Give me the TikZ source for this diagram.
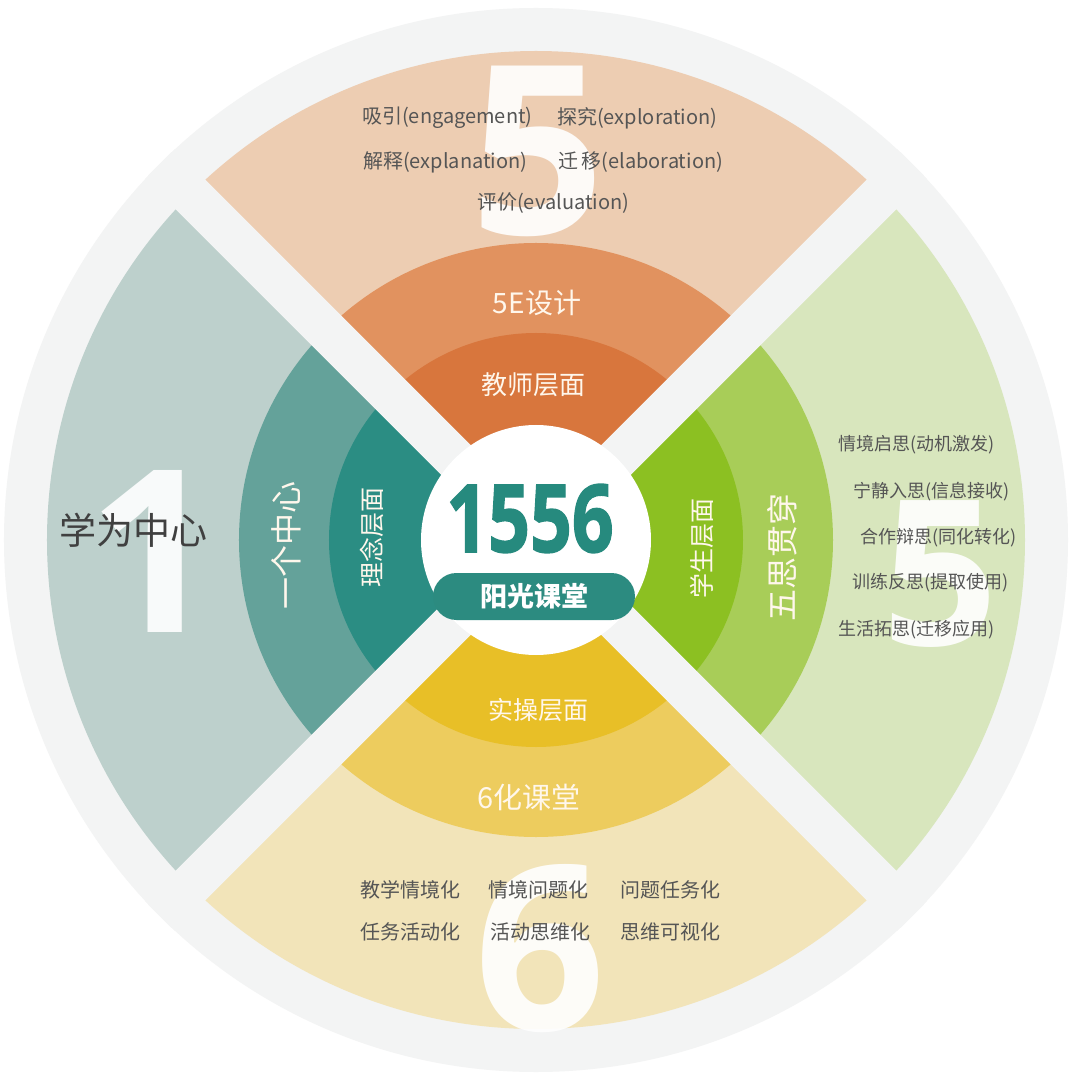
\documentclass[tikz,border=0pt]{standalone}
\usepackage{fontspec}
\setmainfont{Noto Sans CJK SC}
\newfontfamily\numfont{Open Sans}
\newfontfamily\heavyfont{Open Sans}[BoldFeatures={FakeBold=1.6}]
\definecolor{bgc}{HTML}{F3F4F4}
\definecolor{tO}{HTML}{EDCDB2}
\definecolor{tM}{HTML}{E1925F}
\definecolor{tI}{HTML}{D8763D}
\definecolor{lO}{HTML}{BDD0CC}
\definecolor{lM}{HTML}{64A29A}
\definecolor{lI}{HTML}{2B8D83}
\definecolor{rO}{HTML}{D8E6BD}
\definecolor{rM}{HTML}{A8CD58}
\definecolor{rI}{HTML}{8CC022}
\definecolor{bO}{HTML}{F2E4B9}
\definecolor{bM}{HTML}{EDCC5E}
\definecolor{bI}{HTML}{E8BF27}
\definecolor{txtc}{HTML}{555555}
\definecolor{darktxt}{HTML}{404040}
\definecolor{ringtxt}{HTML}{FFF7EC}
\definecolor{teal}{HTML}{268A7E}
\definecolor{pillc}{HTML}{2C8B80}
\begin{document}
\begin{tikzpicture}[x=1pt,y=1pt,
  outtxt/.style={inner sep=0pt, text=txtc, font=\fontsize{20}{24}\selectfont, anchor=west},
  sidetxt/.style={inner sep=0pt, text=txtc, font=\fontsize{18}{22}\selectfont, anchor=west},
  ringlbl/.style={inner sep=0pt, text=ringtxt, font=\fontsize{#1}{#1}\selectfont},
  wmark/.style={inner sep=0pt, anchor=base, text=white, text opacity=0.9, font=\fontsize{#1}{#1}\selectfont\numfont\bfseries}
]
\useasboundingbox (-536,-544) rectangle (544,540);
\fill[white] (-536,-544) rectangle (544,540);
\fill[bgc] (0,0) circle (532pt);
% quadrant sectors
\foreach \a/\co/\cm/\ci in {45/tO/tM/tI, 135/lO/lM/lI, 225/bO/bM/bI, 315/rO/rM/rI} {
  \fill[\co] (0,0) -- (\a:489pt) arc[start angle=\a, delta angle=90, radius=489pt] -- cycle;
  \fill[\cm] (0,0) -- (\a:297pt) arc[start angle=\a, delta angle=90, radius=297pt] -- cycle;
  \fill[\ci] (0,0) -- (\a:207pt) arc[start angle=\a, delta angle=90, radius=207pt] -- cycle;
}
% gaps
\begin{scope}
  \clip (0,0) circle (532pt);
  \fill[bgc, rotate=45] (-540,-21) rectangle (540,21);
  \fill[bgc, rotate=-45] (-540,-21) rectangle (540,21);
\end{scope}
% centre disc
\fill[white] (0,0) circle (115pt);
% watermark digits
\node[wmark=236] (w5t) at (2,305) {5};
\node[wmark=227] (w1) at (-383,-92) {1};
\node[wmark=203] (w5r) at (404,-105) {5};
\node[wmark=230] (w6) at (4,-490) {6};
% top texts
\node[outtxt] (t1) at (-174,422) {吸引(engagement)};
\node[outtxt] (t2) at (21,422) {探究(exploration)};
\node[outtxt] (t3) at (-173,378) {解释(explanation)};
\node[outtxt] (t4) at (22,378) {迁\,移(elaboration)};
\node[outtxt] (t5) at (-59,337) {评价(evaluation)};
% right texts
\node[sidetxt] (r1) at (302,95) {情境启思(动机激发)};
\node[sidetxt] (r2) at (317,48) {宁静入思(信息接收)};
\node[sidetxt] (r3) at (324,2) {合作辩思(同化转化)};
\node[sidetxt] (r4) at (316,-43) {训练反思(提取使用)};
\node[sidetxt] (r5) at (302,-90) {生活拓思(迁移应用)};
% bottom texts
\node[outtxt] (b1) at (-176,-350) {教学情境化};
\node[outtxt] (b2) at (-48,-350) {情境问题化};
\node[outtxt] (b3) at (84,-350) {问题任务化};
\node[outtxt] (b4) at (-176,-392) {任务活动化};
\node[outtxt] (b5) at (-46,-392) {活动思维化};
\node[outtxt] (b6) at (84,-392) {思维可视化};
% left text
\node[inner sep=0pt, text=darktxt, font=\fontsize{37}{37}\selectfont] (lt) at (-402,10) {学为中心};
% ring labels
\node[ringlbl=28] (m1) at (1,237) {5E设计};
\node[ringlbl=26] (i1) at (-3,155) {教师层面};
\node[ringlbl=25] (i3) at (3,-170) {实操层面};
\node[ringlbl=29] (m3) at (-7,-257) {6化课堂};
\node[ringlbl=32, rotate=90] (m2) at (-250,-5) {一个中心};
\node[ringlbl=25, rotate=90] (i2) at (-164,3) {理念层面};
\node[ringlbl=25, rotate=90] (i4) at (166,-8) {学生层面};
\node[ringlbl=32, rotate=90] (m4) at (246,-17) {五思贯穿};
% centre
\node[inner sep=0pt, anchor=base, text=teal, xscale=0.78, font=\fontsize{94}{94}\selectfont\heavyfont\bfseries] (num) at (-6,-12) {1556};
\node[fill=pillc, rounded corners=23.5pt, minimum width=202pt, minimum height=47pt, inner sep=0pt] (pill) at (-2,-56.5) {};
\node[inner sep=0pt, text=white, font=\fontsize{27}{27}\selectfont\bfseries] (pt) at (pill.center) {阳光课堂};
\end{tikzpicture}
\end{document}
